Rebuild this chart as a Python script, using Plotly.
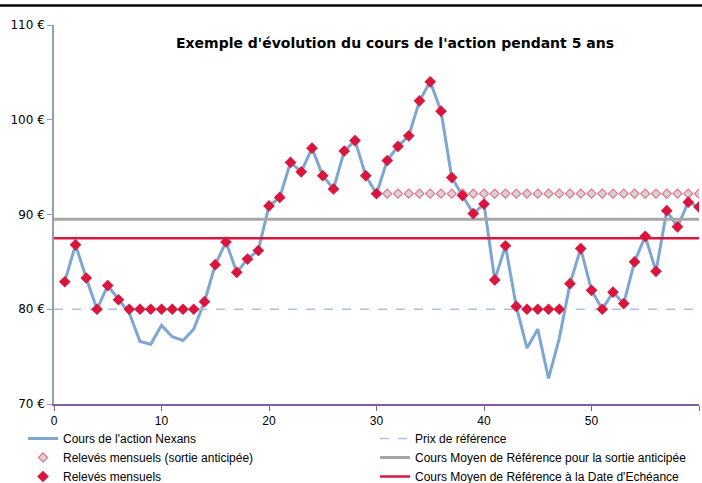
import plotly.graph_objects as go

months = list(range(1, 61))
cours = [82.9, 86.8, 83.3, 80.0, 82.5, 81.0, 79.6, 76.6, 76.3, 78.3,
         77.1, 76.7, 77.9, 80.8, 84.7, 87.1, 83.9, 85.3, 86.2, 90.9,
         91.8, 95.5, 94.5, 97.0, 94.1, 92.7, 96.7, 97.8, 94.1, 92.2,
         95.7, 97.2, 98.3, 102.0, 104.0, 100.9, 93.9, 92.0, 90.1, 91.1,
         83.1, 86.7, 80.3, 75.9, 77.9, 72.7, 76.9, 82.7, 86.4, 82.0,
         80.0, 81.8, 80.6, 85.0, 87.7, 84.0, 90.4, 88.7, 91.3, 90.8]
prix_reference = 80.0
cours_moyen_sortie = 89.5
cours_moyen_echeance = 87.5
niveau_sortie = 92.2
mois_sortie = list(range(31, 61))
releves = [max(v, prix_reference) for v in cours]

y_ticks = [70, 80, 90, 100, 110]
y_labels = ["70 €", "80 €", "90 €", "100 €", "110 €"]
x_ticks = [0, 10, 20, 30, 40, 50, 60]

fig = go.Figure()
fig.add_trace(go.Scatter(x=months, y=cours, mode="lines", name="Cours de l'action Nexans",
                         legend="legend", line=dict(color="#7EA6D3", width=3)))
fig.add_trace(go.Scatter(x=[0, 60], y=[prix_reference] * 2, mode="lines", name="Prix de référence",
                         legend="legend2", line=dict(color="#AFC0DD", width=1.5, dash="dash")))
fig.add_trace(go.Scatter(x=[0, 60], y=[cours_moyen_sortie] * 2, mode="lines",
                         name="Cours Moyen de Référence pour la sortie anticipée",
                         legend="legend2", line=dict(color="#A6A6A6", width=3)))
fig.add_trace(go.Scatter(x=[0, 60], y=[cours_moyen_echeance] * 2, mode="lines",
                         name="Cours Moyen de Référence à la Date d'Echéance",
                         legend="legend2", line=dict(color="#D8163E", width=2.5)))
fig.add_trace(go.Scatter(x=mois_sortie, y=[niveau_sortie] * len(mois_sortie), mode="markers",
                         name="Relevés mensuels (sortie anticipée)", legend="legend",
                         marker=dict(symbol="diamond", size=7, color="#D4D4D4",
                                     line=dict(color="#E8708A", width=1.2))))
fig.add_trace(go.Scatter(x=months, y=releves, mode="markers", name="Relevés mensuels",
                         legend="legend",
                         marker=dict(symbol="diamond", size=9, color="#D8163E",
                                     line=dict(color="#D8163E", width=0))))

legend_common = dict(orientation="h", xref="container", yref="container",
                     xanchor="left", yanchor="top", bgcolor="rgba(0,0,0,0)",
                     font=dict(family="Liberation Sans, Arial", size=12, color="black"),
                     itemwidth=30, tracegroupgap=0,
                     entrywidth=340, entrywidthmode="pixels")

fig.update_layout(
    width=702, height=483,
    margin=dict(l=54, r=3, t=25, b=79),
    paper_bgcolor="white", plot_bgcolor="white",
    title=dict(text="<b>Exemple d'évolution du cours de l'action pendant 5 ans</b>",
               x=395 / 702, xanchor="center", xref="container",
               y=1 - 43 / 483, yanchor="middle", yref="container",
               font=dict(family="DejaVu Sans", size=14, color="black")),
    showlegend=True,
    legend=dict(x=23 / 702, y=1 - 424 / 483, **legend_common),
    legend2=dict(x=375 / 702, y=1 - 424 / 483, **legend_common),
    xaxis=dict(range=[0, 60], tickvals=x_ticks, showgrid=False, zeroline=False,
               showline=True, linecolor="#7F5FA0", linewidth=1.5,
               ticks="outside", ticklen=5, tickcolor="#7F5FA0", automargin=False,
               tickfont=dict(family="Liberation Sans, Arial", size=12, color="black")),
    yaxis=dict(range=[70, 110], tickvals=y_ticks, ticktext=y_labels, showgrid=False, zeroline=False,
               showline=True, linecolor="#8EA0B8", linewidth=1.5,
               ticks="outside", ticklen=5, tickcolor="#8EA0B8", automargin=False,
               tickfont=dict(family="DejaVu Sans", size=12, color="black")),
    shapes=[dict(type="line", xref="paper", yref="paper",
                 x0=-54 / 645, x1=648 / 645, y0=(404 - 5.5) / 379, y1=(404 - 5.5) / 379,
                 line=dict(color="black", width=2.5))],
)

fig.write_html("out.html", config={"displayModeBar": False},
               post_script="document.body.style.margin='0';")
